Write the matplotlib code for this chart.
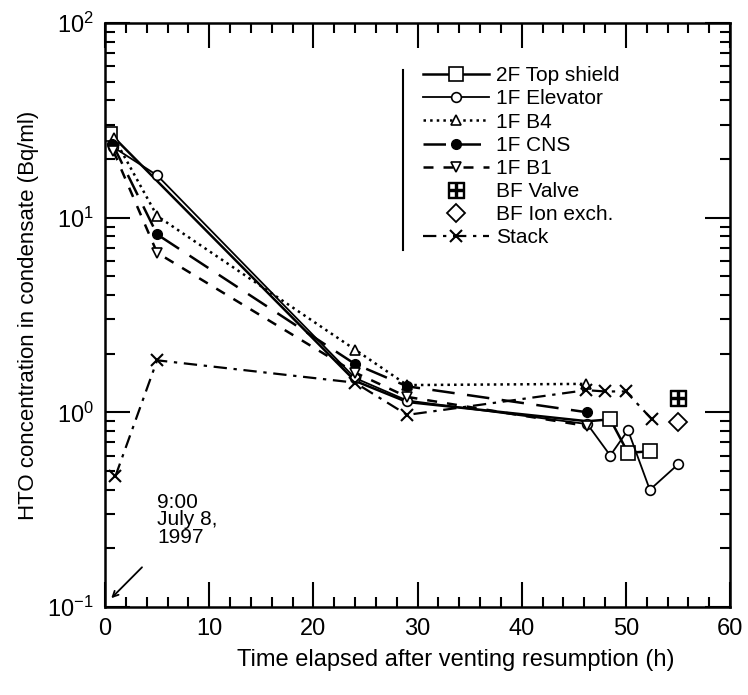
import numpy as np
import matplotlib
matplotlib.use("Agg")
import matplotlib.pyplot as plt
from matplotlib.lines import Line2D

plt.rcParams['font.family'] = ['Liberation Sans', 'DejaVu Sans']
plt.rcParams['mathtext.fontset'] = 'custom'
plt.rcParams['mathtext.rm'] = 'Liberation Sans'

# data (time in h, HTO in Bq/ml)
t_top = [0.5, 24, 29, 46.3, 48.5, 50.2, 52.3]
v_top = [27, 1.45, 1.13, 0.9, 0.92, 0.62, 0.63]

t_elev = [0.8, 5, 24, 29, 46.3, 48.5, 50.2, 52.3, 55]
v_elev = [23, 16.5, 1.5, 1.15, 0.87, 0.6, 0.81, 0.4, 0.54]

t_b4 = [0.9, 5, 24, 29, 46.2]
v_b4 = [25.5, 10.2, 2.1, 1.38, 1.4]

t_cns = [0.7, 5, 24, 29, 46.3]
v_cns = [24, 8.2, 1.77, 1.36, 1.0]

t_b1 = [0.8, 5, 24, 29, 46.3]
v_b1 = [22, 6.6, 1.6, 1.2, 0.85]

t_valve = [55]
v_valve = [1.19]

t_ion = [55]
v_ion = [0.89]

t_stack = [1, 5, 24, 29, 46.2, 48, 50, 52.5]
v_stack = [0.47, 1.85, 1.42, 0.97, 1.3, 1.28, 1.28, 0.92]

fig = plt.figure(figsize=(7.48, 6.95), dpi=100)
ax = fig.add_axes([0.1404, 0.1266, 0.8356, 0.8404])

ax.plot(t_top, v_top, '-', color='k', lw=1.8, marker='s', ms=10, mfc='white',
        mec='k', mew=1.2, markevery=[0, 4, 5, 6], label='2F Top shield')
ax.plot(t_elev, v_elev, '-', color='k', lw=1.3, marker='o', ms=7, mfc='white',
        mec='k', mew=1.2, label='1F Elevator')
ax.plot(t_b4, v_b4, ':', color='k', lw=1.8, marker='^', ms=7, mfc='white',
        mec='k', mew=1.2, label='1F B4')
ax.plot(t_cns, v_cns, color='k', lw=1.8, ls=(0, (9, 5)), marker='o', ms=7,
        mfc='k', mec='k', label='1F CNS')
ax.plot(t_b1, v_b1, color='k', lw=1.8, ls=(0, (4, 4)), marker='v', ms=7,
        mfc='white', mec='k', mew=1.2, label='1F B1')
ax.plot(t_valve, v_valve, ls='none', marker='$\\boxplus$', ms=12, color='k',
        label='BF Valve')
ax.plot(t_ion, v_ion, ls='none', marker='D', ms=9, mfc='white', mec='k',
        mew=1.3, label='BF Ion exch.')
ax.plot(t_stack, v_stack, color='k', lw=1.6, ls=(0, (6, 3, 1.5, 3)), marker='x',
        ms=9, mew=1.5, label='Stack')

ax.set_yscale('log')
ax.set_xlim(0, 60)
ax.set_ylim(0.1, 100)
ax.set_xticks(np.arange(0, 61, 10))
ax.set_xticks(np.arange(0, 61, 2), minor=True)
ax.tick_params(which='both', direction='in', top=True, right=True,
               labelsize=17, width=1.5)
ax.tick_params(which='major', length=18, pad=8)
ax.tick_params(which='minor', length=7)
for s in ax.spines.values():
    s.set_linewidth(1.8)

ax.set_ylabel('HTO concentration in condensate (Bq/ml)', fontsize=16, labelpad=6)
fig.text(456 / 748, 1 - 660 / 695, 'Time elapsed after venting resumption (h)',
         fontsize=17, ha='center', va='center')

leg = ax.legend(loc='upper left', bbox_to_anchor=(0.495, 0.94), frameon=False,
                fontsize=15, handlelength=3.2, handletextpad=0.3,
                labelspacing=0.2, borderaxespad=0)
ax.add_line(Line2D([0.477, 0.477], [0.611, 0.92], transform=ax.transAxes,
                   color='k', lw=1.5))

ax.text(5.0, 0.28, '9:00\nJuly 8,\n1997', fontsize=15, ha='left', va='center',
        linespacing=0.9)
ax.annotate('', xy=(0.6, 0.111), xytext=(3.55, 0.16),
            arrowprops=dict(arrowstyle='->', color='k', lw=1.3,
                            shrinkA=0, shrinkB=0))

fig.savefig('out.png', dpi=100)
